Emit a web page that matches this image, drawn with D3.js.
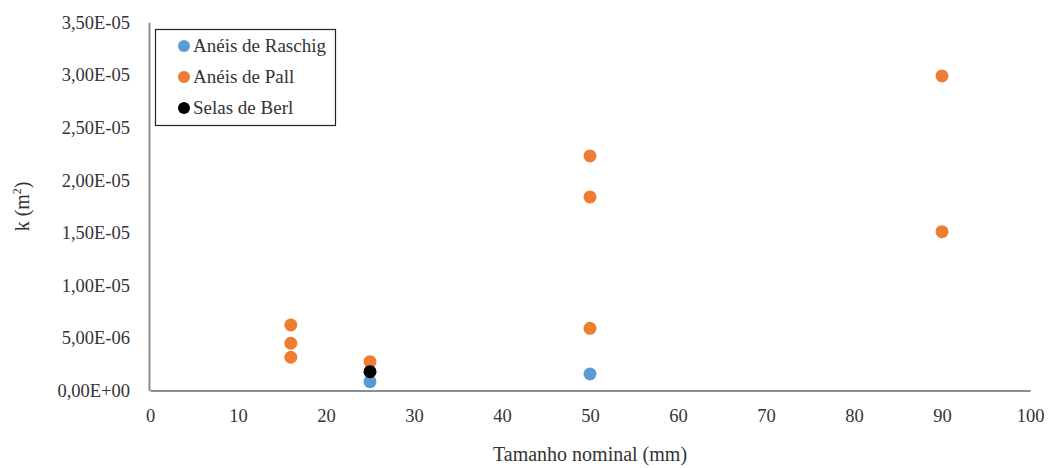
<!DOCTYPE html>
<html>
<head>
<meta charset="utf-8">
<script src="https://cdn.jsdelivr.net/npm/d3@7"></script>
<style>
  html, body { margin: 0; padding: 0; background: #fff; }
  svg { display: block; }
  text { font-family: "Liberation Serif", "Times New Roman", serif; fill: #333; }
</style>
</head>
<body>
<svg id="chart" width="1049" height="468"></svg>
<script>
// Permeability k (m²) vs nominal packing size (mm)
const seriesNames = ["Anéis de Raschig", "Anéis de Pall", "Selas de Berl"];
const seriesColors = ["#5B9BD5", "#ED7D31", "#000000"];

const raschigSize = [25, 50];
const raschigK = [0.84e-6, 1.57e-6];

const pallSize = [16, 16, 16, 25, 50, 50, 50, 90, 90];
const pallK = [6.23e-6, 4.49e-6, 3.16e-6, 2.74e-6, 22.3e-6, 18.4e-6, 5.91e-6, 29.9e-6, 15.1e-6];

const berlSize = [25];
const berlK = [1.79e-6];

const xTicks = [0, 10, 20, 30, 40, 50, 60, 70, 80, 90, 100];
const yTicks = [0, 5e-6, 1e-5, 1.5e-5, 2e-5, 2.5e-5, 3e-5, 3.5e-5];
const yTickLabels = ["0,00E+00", "5,00E-06", "1,00E-05", "1,50E-05", "2,00E-05", "2,50E-05", "3,00E-05", "3,50E-05"];

const svg = d3.select("#chart");
const plotLeft = 150, plotRight = 1030, plotTop = 22.3, plotBottom = 390.5;
const serif = "Liberation Serif, Times New Roman, serif";

const x = d3.scaleLinear().domain([0, 100]).range([plotLeft, plotRight]);
const y = d3.scaleLinear().domain([0, 3.5e-5]).range([plotBottom, plotTop]);

// axes (lines only, no tick marks)
const xAxis = d3.axisBottom(x).tickValues(xTicks).tickSize(0).tickPadding(18).tickFormat(d3.format("d"));
const gx = svg.append("g").attr("transform", `translate(0,${plotBottom})`).call(xAxis);
gx.attr("font-family", serif);
gx.select(".domain").attr("stroke", "#8c8c8c").attr("stroke-width", 2);
gx.selectAll("text").attr("font-size", 18.5).attr("fill", "#333");

const yAxis = d3.axisLeft(y).tickValues(yTicks).tickSize(0).tickPadding(19)
  .tickFormat((d, i) => yTickLabels[i]);
const gy = svg.append("g").attr("transform", `translate(${plotLeft - 1},0)`).call(yAxis);
gy.attr("font-family", serif);
gy.select(".domain").attr("stroke", "#8c8c8c").attr("stroke-width", 2);
gy.selectAll("text").attr("font-size", 18.5).attr("fill", "#333");

// axis titles
svg.append("text")
  .attr("x", (plotLeft + plotRight) / 2).attr("y", 461)
  .attr("text-anchor", "middle").attr("font-size", 20)
  .text("Tamanho nominal (mm)");

const yTitle = svg.append("text")
  .attr("transform", `translate(29,${(plotTop + plotBottom) / 2}) rotate(-90)`)
  .attr("text-anchor", "middle").attr("font-size", 20);
yTitle.append("tspan").text("k (m");
yTitle.append("tspan").attr("font-size", 12).attr("dy", -8).text("2");
yTitle.append("tspan").attr("dy", 8).text(")");

// points
const series = [
  { sizes: raschigSize, ks: raschigK },
  { sizes: pallSize, ks: pallK },
  { sizes: berlSize, ks: berlK }
];
series.forEach((s, i) => {
  svg.append("g").selectAll("circle")
    .data(s.sizes.map((v, j) => [v, s.ks[j]]))
    .join("circle")
    .attr("cx", d => x(d[0]))
    .attr("cy", d => y(d[1]))
    .attr("r", 6.5)
    .attr("fill", seriesColors[i]);
});

// legend
const lg = svg.append("g");
lg.append("rect")
  .attr("x", 155.5).attr("y", 29.5).attr("width", 180).attr("height", 96)
  .attr("fill", "#fff").attr("stroke", "#222").attr("stroke-width", 1.2);
seriesNames.forEach((name, i) => {
  const cy = 46 + i * 31;
  lg.append("circle").attr("cx", 184).attr("cy", cy).attr("r", 6).attr("fill", seriesColors[i]);
  lg.append("text").attr("x", 193).attr("y", cy + 6).attr("font-size", 19).attr("fill", "#111").text(name);
});
</script>
</body>
</html>
